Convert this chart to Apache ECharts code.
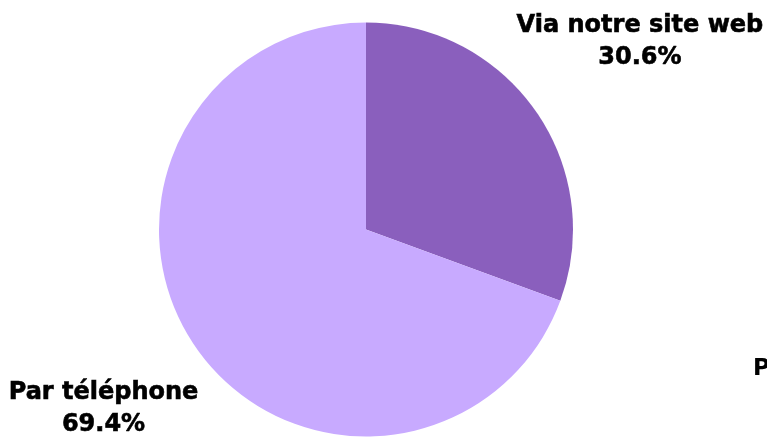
<!DOCTYPE html>
<html>
<head>
<meta charset="utf-8">
<script src="https://cdn.jsdelivr.net/npm/echarts@6/dist/echarts.min.js"></script>
<style>
html,body{margin:0;padding:0;background:#fff;}
#chart{width:767px;height:440px;}
</style>
</head>
<body>
<div id="chart"></div>
<script>
const categories = ['Via notre site web', 'Par téléphone'];
const values = [30.6, 69.4];
const colors = ['#8a5fbd', '#c8aaff'];
const lineLengths = [121, 107];
const strayText = 'P';

const chart = echarts.init(document.getElementById('chart'), null, {renderer: 'canvas'});
chart.setOption({
  animation: false,
  backgroundColor: '#ffffff',
  graphic: [{
    type: 'text',
    left: 753,
    top: 358,
    style: {
      text: strayText,
      font: 'bold 23px "DejaVu Sans"',
      fill: '#000'
    }
  }],
  series: [{
    type: 'pie',
    center: [366, 229.5],
    radius: 207,
    startAngle: 90,
    clockwise: true,
    avoidLabelOverlap: false,
    percentPrecision: 1,
    itemStyle: { borderWidth: 0 },
    label: {
      show: true,
      position: 'outside',
      formatter: '{b}\n{d}%',
      fontFamily: 'DejaVu Sans',
      fontWeight: 'bold',
      fontSize: 24,
      lineHeight: 32,
      color: '#000',
      textBorderColor: '#000',
      textBorderWidth: 0.6,
      width: 340,
      overflow: 'none',
      distanceToLabelLine: 5
    },
    labelLine: { show: false, length2: 0 },
    labelLayout: function () {
      return { align: 'center', verticalAlign: 'middle' };
    },
    emphasis: { disabled: true },
    data: categories.map((c, i) => ({
      name: c,
      value: values[i],
      itemStyle: { color: colors[i] },
      labelLine: { show: false, length: lineLengths[i], length2: 0 }
    }))
  }]
});
</script>
</body>
</html>
